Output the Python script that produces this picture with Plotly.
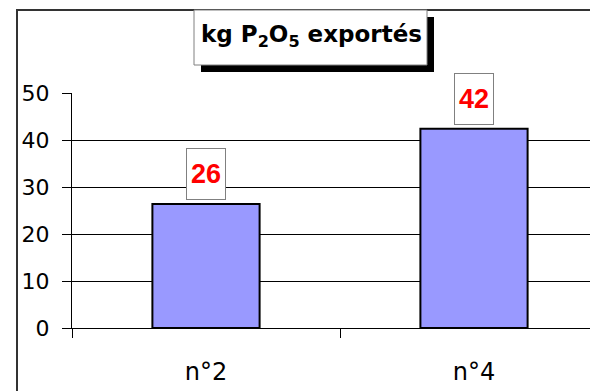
import plotly.graph_objects as go

# Data
categories = ["n°2", "n°4"]
values = [26.4, 42.4]
y_ticks = [0, 10, 20, 30, 40, 50]
title_text = "kg P<sub>2</sub>O<sub>5</sub> exportés"

W, H = 590, 391
M_L, M_R, M_T, M_B = 72, 0, 93, 63
plot_w = W - M_L - M_R
plot_h = H - M_T - M_B
cat_px = 268  # pixel width of one category slot

WIDE_FONT = "DejaVu Sans, Liberation Sans, Arial"


def px_x(p):
    return (p - M_L) / plot_w


def px_y(p):
    return (H - M_B - p) / plot_h


fig = go.Figure()
fig.add_trace(go.Bar(
    x=categories,
    y=values,
    width=0.4,
    marker=dict(color="#9999FF", line=dict(color="black", width=2)),
    hoverinfo="skip",
))

# value boxes above bars
annotations = []
for c, v in zip(categories, values):
    annotations.append(dict(
        x=c, y=v, xref="x", yref="y",
        text=f"<b>{v:.0f}</b>",
        showarrow=False,
        yanchor="bottom", yshift=4,
        font=dict(family="Liberation Sans, Arial", size=27, color="#FF0000"),
        bgcolor="white", bordercolor="#808080", borderwidth=1, borderpad=1,
        width=36, height=48,
    ))

shapes = [
    # chart area frame
    dict(type="rect", xref="paper", yref="paper",
         x0=px_x(17), x1=px_x(640), y0=px_y(440), y1=px_y(10),
         line=dict(color="#333333", width=2), fillcolor="rgba(0,0,0,0)", layer="above"),
    # title shadow
    dict(type="rect", xref="paper", yref="paper",
         x0=px_x(201), x1=px_x(434), y0=px_y(72), y1=px_y(17),
         line=dict(width=0), fillcolor="black", layer="above"),
    # title box
    dict(type="rect", xref="paper", yref="paper",
         x0=px_x(194), x1=px_x(427), y0=px_y(65), y1=px_y(10),
         line=dict(color="#808080", width=1), fillcolor="white", layer="above"),
]

annotations.append(dict(
    x=px_x(311), y=px_y(36), xref="paper", yref="paper",
    text=f"<b>{title_text}</b>", showarrow=False,
    xanchor="center", yanchor="middle",
    font=dict(family=WIDE_FONT, size=23, color="black"),
))

fig.update_layout(
    width=W, height=H,
    margin=dict(l=M_L, r=M_R, t=M_T, b=M_B, pad=0),
    paper_bgcolor="white", plot_bgcolor="white",
    showlegend=False,
    shapes=shapes,
    annotations=annotations,
    font=dict(family=WIDE_FONT, color="black"),
)

fig.update_xaxes(
    type="category",
    range=[-0.5, -0.5 + plot_w / cat_px],
    tickson="boundaries",
    ticks="outside", ticklen=9, tickcolor="black", tickwidth=1,
    showline=True, linecolor="black", linewidth=1,
    showgrid=False, zeroline=False,
    tickfont=dict(family=WIDE_FONT, size=24, color="black"),
    ticklabelstandoff=22,
)
fig.update_yaxes(
    range=[0, 50],
    tickvals=y_ticks,
    ticks="outside", ticklen=9, tickcolor="black", tickwidth=1,
    showline=True, linecolor="black", linewidth=1,
    showgrid=True, gridcolor="black", gridwidth=1,
    zeroline=False,
    tickfont=dict(family=WIDE_FONT, size=22, color="black"),
    ticklabelstandoff=8,
)

fig.write_html("out.html")
